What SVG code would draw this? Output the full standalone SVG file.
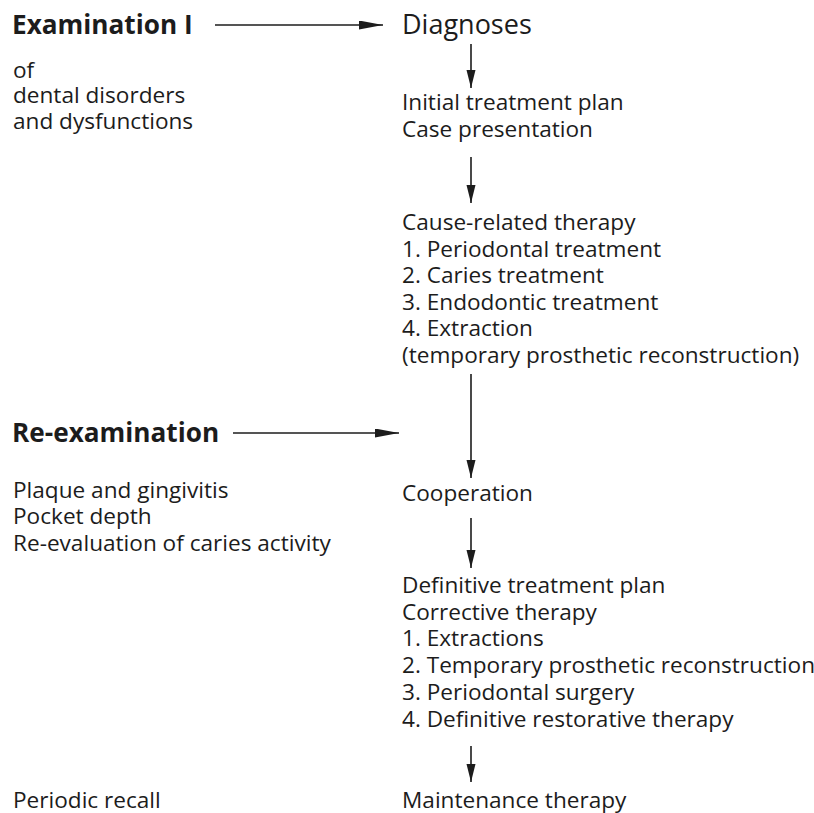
<svg xmlns="http://www.w3.org/2000/svg" width="814" height="813" viewBox="0 0 814 813">
<style>
text{font-family:"Open Sans","Noto Sans","Liberation Sans",sans-serif;fill:#1c1c1c;font-size:22.6px}
.h{font-weight:bold;font-size:26.2px}
.d{font-size:27px}
.c{stroke:#1c1c1c;stroke-width:1.6;fill:none}
</style>
<defs>
<marker id="ah" markerUnits="userSpaceOnUse" markerWidth="26" markerHeight="10" refX="24" refY="4.5" orient="auto">
<path d="M0,0 L24,4.5 L0,9 z" fill="#1c1c1c"/>
</marker>
<marker id="av" markerUnits="userSpaceOnUse" markerWidth="20" markerHeight="10" refX="18" refY="4.5" orient="auto">
<path d="M0,0 L18,4.5 L0,9 z" fill="#1c1c1c"/>
</marker>
</defs>
<rect width="814" height="813" fill="#ffffff"/>
<g id="connectors">
<line class="c" x1="215" y1="25" x2="383" y2="25" marker-end="url(#ah)"/>
<line class="c" x1="233" y1="433" x2="399" y2="433" marker-end="url(#ah)"/>
<line class="c" x1="471" y1="44" x2="471" y2="88" marker-end="url(#av)"/>
<line class="c" x1="471" y1="157" x2="471" y2="203" marker-end="url(#av)"/>
<line class="c" x1="471" y1="374" x2="471" y2="478" marker-end="url(#av)"/>
<line class="c" x1="471" y1="518" x2="471" y2="568" marker-end="url(#av)"/>
<line class="c" x1="471" y1="746" x2="471" y2="782" marker-end="url(#av)"/>
</g>
<g id="examination1">
<text class="h" x="12" y="34">Examination I</text>
<text x="13" y="78">of</text>
<text x="13" y="103">dental disorders</text>
<text x="13" y="129">and dysfunctions</text>
</g>
<g id="diagnoses"><text class="d" x="402" y="34">Diagnoses</text></g>
<g id="initial-plan">
<text x="402" y="110">Initial treatment plan</text>
<text x="402" y="137">Case presentation</text>
</g>
<g id="cause-related">
<text x="402" y="230">Cause-related therapy</text>
<text x="402" y="257">1. Periodontal treatment</text>
<text x="402" y="283">2. Caries treatment</text>
<text x="402" y="310">3. Endodontic treatment</text>
<text x="402" y="336">4. Extraction</text>
<text x="402" y="363">(temporary prosthetic reconstruction)</text>
</g>
<g id="reexamination">
<text class="h" x="12" y="442">Re-examination</text>
<text x="13" y="498">Plaque and gingivitis</text>
<text x="13" y="524">Pocket depth</text>
<text x="13" y="551">Re-evaluation of caries activity</text>
</g>
<g id="cooperation"><text x="402" y="501">Cooperation</text></g>
<g id="definitive">
<text x="402" y="593">Definitive treatment plan</text>
<text x="402" y="620">Corrective therapy</text>
<text x="402" y="646">1. Extractions</text>
<text x="402" y="673">2. Temporary prosthetic reconstruction</text>
<text x="402" y="700">3. Periodontal surgery</text>
<text x="402" y="727">4. Definitive restorative therapy</text>
</g>
<g id="recall"><text x="13" y="808">Periodic recall</text></g>
<g id="maintenance"><text x="402" y="808">Maintenance therapy</text></g>
</svg>
